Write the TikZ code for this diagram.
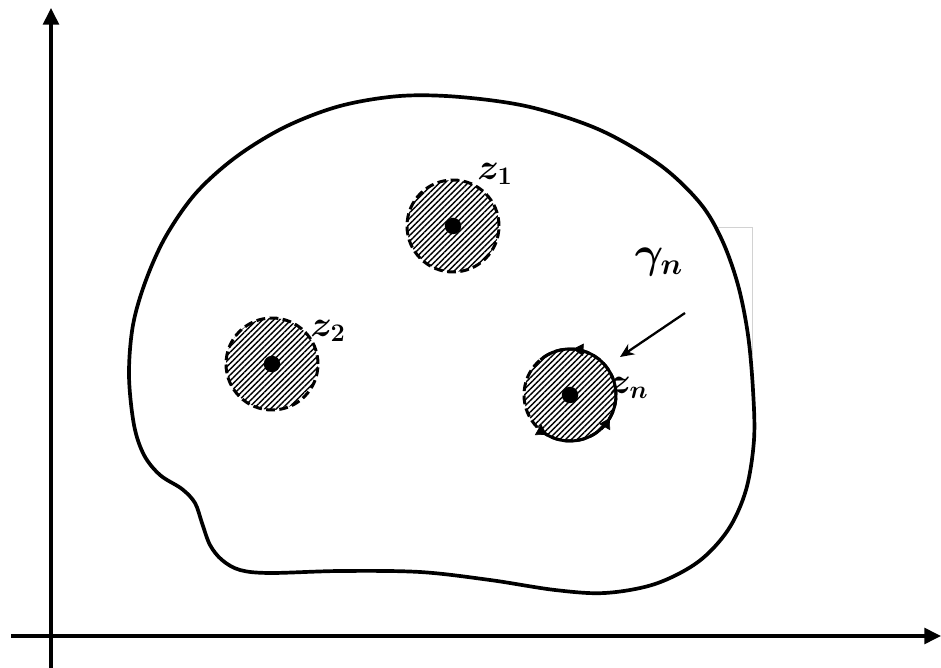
\documentclass[tikz,border=0pt]{standalone}
\usepackage{amsmath}
\usetikzlibrary{arrows.meta,patterns.meta,decorations.markings,calc}
\begin{document}
\begin{tikzpicture}[x=0.02cm,y=-0.02cm,
  axis/.style={line width=1.9pt,-{Triangle[length=9.5pt,width=9pt]}},
  region/.style={line width=2.1pt,line join=round},
  hole/.style={circle,inner sep=0pt,minimum size=1.84cm,
    pattern={Lines[angle=45,distance=2.3pt,line width=0.8pt]},pattern color=black},
  holeedge/.style={draw,line width=1.7pt,dash pattern=on 5pt off 2.5pt},
  centre/.style={circle,fill=black,inner sep=0pt,minimum size=0.33cm},
  lab/.style={inner sep=0pt,font=\fontsize{20}{22}\selectfont\boldmath},
  biglab/.style={inner sep=0pt,font=\fontsize{25}{27}\selectfont\boldmath},
  pointer/.style={line width=1.3pt,-{Stealth[length=8pt,width=7pt]}},
  orient/.style={postaction={decorate},decoration={markings,
    mark=at position 0.24 with {\arrow{Triangle[length=6pt,width=7pt]}},
    mark=at position 0.667 with {\arrow{Triangle[length=6pt,width=7pt]}},
    mark=at position 0.917 with {\arrow{Triangle[length=6pt,width=7pt]}}}},
]
\useasboundingbox (0,0) rectangle (941,668);

% faint scan artefact
\draw[gray!35,line width=0.5pt] (717,227) -- (752,227) -- (752,355);

% axes
\coordinate (xs) at (11,636);
\coordinate (xe) at (941,636);
\coordinate (ys) at (51,668);
\coordinate (ye) at (51,8);
\draw[axis] (xs) -- (xe);
\draw[axis] (ys) -- (ye);

% region
\draw[region] plot[smooth cycle,tension=0.55] coordinates {
  (129,375) (133,325) (146,280) (166,236) (196,193) (236,157) (285,127)
  (340,106) (400,96) (460,97) (530,107) (600,130) (660,165) (700,203)
  (722,240) (738,285) (748,335) (753,390) (754,440) (746,490) (728,530)
  (698,562) (655,584) (605,593) (555,590) (490,580) (420,572) (340,571)
  (270,573) (240,570) (222,560) (210,545) (202,523) (195,503) (182,489)
  (160,475) (144,455) (134,425)};

% holes
\node[hole,holeedge] (c1) at (453,226) {};
\node[hole,holeedge] (c2) at (272,364) {};
\node[hole,holeedge] (cn) at (570,395) {};
\draw[line width=1.7pt] ($(cn.center)+(-130:46)$) arc[start angle=-130,end angle=125,radius=46];
\path[orient] ($(cn.center)+(0:46)$) arc[start angle=0,end angle=-360,radius=46];

\node[centre] (p1) at (c1.center) {};
\node[centre] (p2) at (c2.center) {};
\node[centre] (pn) at (cn.center) {};

% labels
\node[lab] (l1) at (495,174) {$z_1$};
\node[lab] (l2) at (328,331) {$z_2$};
\node[lab] (ln) at (629,388) {$z_n$};
\node[biglab] (lg) at (659,262) {$\gamma_n$};

% pointer to gamma_n
\coordinate (gs) at (685,313);
\coordinate (gt) at (620,357);
\draw[pointer] (gs) -- (gt);
\end{tikzpicture}
\end{document}
